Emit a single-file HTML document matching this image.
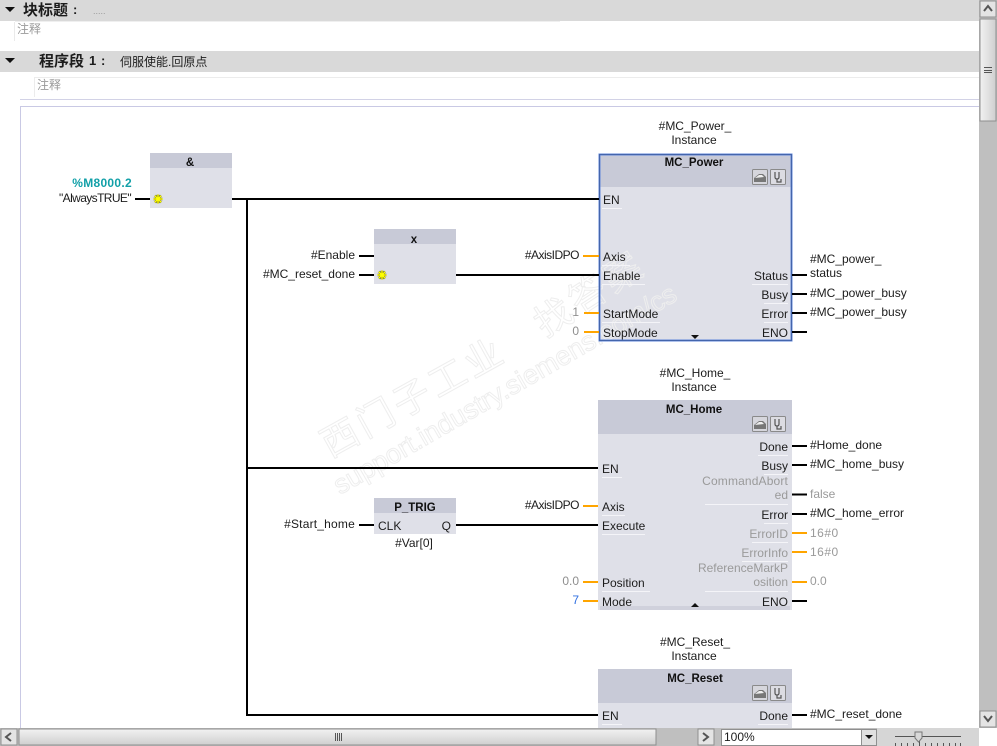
<!DOCTYPE html>
<html><head><meta charset="utf-8"><style>
html,body{margin:0;padding:0;background:#fff;width:997px;height:746px;overflow:hidden}
svg{display:block}
text{font-family:"Liberation Sans","Noto Sans CJK SC",sans-serif;font-size:12px;fill:#1c1c1c}
.e{text-anchor:end}.m{text-anchor:middle}
.t{font-weight:bold;font-size:11.500px;text-anchor:middle;fill:#111}
.g{fill:#9a9a9a}.og{fill:#8f8f8f}
.wm{fill:none;stroke:#eeeeee;stroke-width:1}
.k{stroke:#000;stroke-width:2;fill:none}
.o{stroke:#ffa500;stroke-width:2;fill:none}
.u{stroke:#f4f4f8;stroke-width:1;fill:none}
.cjk{font-family:"Liberation Sans","Noto Sans CJK SC",sans-serif}
</style></head><body>
<svg width="997" height="746" viewBox="0 0 997 746" xmlns="http://www.w3.org/2000/svg">
<defs>
<linearGradient id="sb" x1="0" x2="1" y1="0" y2="0"><stop offset="0" stop-color="#f2f2f2"/><stop offset="1" stop-color="#cfcfcf"/></linearGradient>
<linearGradient id="sh" x1="0" x2="0" y1="0" y2="1"><stop offset="0" stop-color="#f2f2f2"/><stop offset="1" stop-color="#cfcfcf"/></linearGradient>
<g id="ic">
<rect x="0.5" y="0.5" width="15" height="15" fill="#d6d6dc" stroke="#8a8a8a" rx="1"/>
<path d="M2 13V9L7 5H11L14 8V13Z" fill="#777"/><path d="M3 9L7 6H10L12 8Z" fill="#eee"/>
<rect x="18.5" y="0.5" width="15" height="15" fill="#dcdce2" stroke="#8a8a8a" rx="1"/>
<path d="M23 3V8Q23 10 25 10Q27 10 27 8V3M25 10V13H29V10" fill="none" stroke="#555" stroke-width="1.2"/>
</g>
<g id="st">
<path d="M-5 -0.500H4M-0.500 -5V4M-3.500 -4L2.500 3M-3.500 3L2.500 -4" transform="translate(0.500 0.500)" stroke="#6b6b20" stroke-width="2.400"/>
<path d="M-4.500 0H4.500M0 -4.500V4.500M-3.200 -3.200L3.200 3.200M-3.200 3.200L3.200 -3.200" stroke="#ffff00" stroke-width="1.400"/>
</g>
</defs>

<!-- headers -->
<rect x="0" y="0" width="979" height="21" fill="#d9d9d9"/>
<rect x="0" y="51" width="979" height="21" fill="#d9d9d9"/>
<path d="M5 7H15L10 12Z M5 58H15L10 63Z" fill="#111"/>
<text x="23" y="15" class="cjk" style="font-size:15px;font-weight:bold">块标题</text>
<text x="73" y="14" style="font-size:13px;font-weight:bold">:</text>
<text x="93" y="14" class="g" style="font-size:9px">.....</text>
<path d="M14.500 22V41" stroke="#eaeaea"/>
<path d="M15 21.500H560" stroke="#efefef"/>
<text x="17" y="33" class="g cjk">注释</text>
<text x="39" y="66" class="cjk" style="font-size:15px;font-weight:bold">程序段</text>
<text x="89" y="65" style="font-size:13px;font-weight:bold">1</text>
<text x="101" y="65" style="font-size:13px;font-weight:bold">:</text>
<text x="120" y="66" class="cjk" style="font-size:12px">伺服使能.回原点</text>
<path d="M34.500 77V97M34 77.500H979" stroke="#ececec" fill="none"/>
<text x="37" y="89" class="g cjk">注释</text>
<path d="M20 99.500H979" stroke="#d2d2e6"/>
<path d="M20.500 728V106.500H979" stroke="#c9c9e4" fill="none"/>

<!-- blocks -->
<rect x="150" y="153" width="82" height="55" fill="#dfe0e8"/><rect x="150" y="153" width="82" height="15" fill="#c8cad7"/>
<rect x="374" y="229" width="82" height="55" fill="#dfe0e8"/><rect x="374" y="229" width="82" height="15" fill="#c8cad7"/>
<rect x="374" y="498" width="82" height="36" fill="#dfe0e8"/><rect x="374" y="498" width="82" height="15" fill="#c8cad7"/>
<rect x="599" y="154" width="193" height="187" fill="#dfe0e8"/><rect x="599" y="154" width="193" height="33" fill="#c8cad7"/>
<rect x="598" y="400" width="194" height="210" fill="#dfe0e8"/><rect x="598" y="400" width="194" height="34" fill="#c8cad7"/>
<rect x="600" y="606" width="190" height="4" fill="#d0d1dc"/>
<rect x="598" y="669" width="194" height="59" fill="#dfe0e8"/><rect x="598" y="669" width="194" height="34" fill="#c8cad7"/>

<!-- watermark -->
<g transform="translate(340 495) rotate(-30)"><text class="wm" style="font-size:27px;font-family:'Liberation Sans',sans-serif">support.industry.siemens.com/cs</text></g>
<g transform="translate(330 458) rotate(-29)"><text class="wm" style="font-size:37px;letter-spacing:4px">西门子工业</text></g>
<g transform="translate(545 338) rotate(-33)"><text class="wm" style="font-size:37px;letter-spacing:4px">找答案</text></g>

<!-- selection -->
<rect x="599.500" y="154.500" width="192" height="186" fill="none" stroke="#5f86da" stroke-width="2"/>
<rect x="599.500" y="154.500" width="192" height="186" fill="none" stroke="#2a447e" stroke-width="1" stroke-dasharray="1 1"/>

<!-- underlines -->
<path class="u" d="M602 208.500H622M602 265.500H630M602 284.500H645M602 322.500H660M752 284.500H788M764 303.500H788M764 322.500H788
M602 477.500H622M602 515.500H625M602 534.500H645M602 591.500H650M758 455.500H788M764 474.500H788M705 504.500H788M764 523.500H788M752 542.500H788M742 561.500H788M705 591.500H788M602 724.500H622M758 724.500H788"/>

<!-- wires -->
<path class="k" d="M135 199H150M232 199H599M247 199V715H598M247 468H598M359 256H374M359 275H374M456 275H599M359 525H374M456 525H598"/>
<path class="k" d="M792 275H807M792 294H807M792 313H807M792 332H807M792 446H807M792 465H807M792 494.500H807M792 514H807M792 715H807M792 601H807"/>
<path class="o" d="M583 256H599M584 313H599M584 332H599M583 506H598M583 582H598M583 601H598M792 533H807M792 552H807M792 582H807"/>

<!-- stars -->
<use href="#st" x="158" y="199"/><use href="#st" x="382" y="275"/>

<!-- left labels -->
<text x="132" y="187" class="e" style="fill:#12a0a8;font-weight:bold;letter-spacing:.3px">%M8000.2</text>
<text x="131" y="202" class="e" style="letter-spacing:-.6px">"AlwaysTRUE"</text>
<text x="190" y="166" class="t">&amp;</text>
<text x="414" y="243" class="t">x</text>
<text x="355" y="259" class="e">#Enable</text>
<text x="355" y="278" class="e">#MC_reset_done</text>
<text x="415" y="511" class="t">P_TRIG</text>
<text x="378" y="530">CLK</text>
<text x="451" y="530" class="e">Q</text>
<text x="414" y="547" class="m">#Var[0]</text>
<text x="355" y="528" class="e" style="letter-spacing:.2px">#Start_home</text>

<!-- MC_Power -->
<text x="695" y="130" class="m">#MC_Power_</text><text x="694" y="144" class="m">Instance</text>
<text x="694" y="166" class="t">MC_Power</text>
<use href="#ic" x="752" y="169"/>
<text x="603" y="204">EN</text><text x="603" y="261">Axis</text><text x="603" y="280">Enable</text><text x="603" y="318">StartMode</text><text x="603" y="337">StopMode</text>
<path d="M691 335H699L695 339Z" fill="#111"/>
<text x="788" y="280" class="e">Status</text><text x="788" y="299" class="e">Busy</text><text x="788" y="318" class="e">Error</text><text x="788" y="337" class="e">ENO</text>
<text x="579" y="259" class="e" style="letter-spacing:-.5px">#AxisIDPO</text>
<text x="579" y="316" class="e og">1</text><text x="579" y="335" class="e og">0</text>
<text x="810" y="263">#MC_power_</text><text x="810" y="277">status</text>
<text x="810" y="297">#MC_power_busy</text><text x="810" y="316">#MC_power_busy</text>

<!-- MC_Home -->
<text x="695" y="377" class="m">#MC_Home_</text><text x="694" y="391" class="m">Instance</text>
<text x="694" y="413" class="t">MC_Home</text>
<use href="#ic" x="752" y="416"/>
<text x="602" y="473">EN</text><text x="602" y="511">Axis</text><text x="602" y="530">Execute</text><text x="602" y="587">Position</text><text x="602" y="606">Mode</text>
<path d="M691 607H699L695 603Z" fill="#111"/>
<text x="788" y="451" class="e">Done</text><text x="788" y="470" class="e">Busy</text>
<text x="788" y="485" class="e g" style="letter-spacing:.15px">CommandAbort</text><text x="788" y="499" class="e g">ed</text>
<text x="788" y="519" class="e">Error</text><text x="788" y="538" class="e g">ErrorID</text><text x="788" y="557" class="e g">ErrorInfo</text>
<text x="788" y="572" class="e g">ReferenceMarkP</text><text x="788" y="586" class="e g">osition</text><text x="788" y="606" class="e">ENO</text>
<text x="579" y="509" class="e" style="letter-spacing:-.5px">#AxisIDPO</text>
<text x="579" y="585" class="e og">0.0</text><text x="579" y="604" class="e" style="fill:#2f6fe0">7</text>
<text x="810" y="449">#Home_done</text><text x="810" y="468">#MC_home_busy</text><text x="810" y="498" class="g">false</text>
<text x="810" y="517">#MC_home_error</text><text x="810" y="537" class="g" style="letter-spacing:.5px">16#0</text><text x="810" y="556" class="g" style="letter-spacing:.5px">16#0</text><text x="810" y="585" class="g">0.0</text>

<!-- MC_Reset -->
<text x="695" y="646" class="m">#MC_Reset_</text><text x="694" y="660" class="m">Instance</text>
<text x="695" y="682" class="t">MC_Reset</text>
<use href="#ic" x="752" y="685"/>
<text x="602" y="720">EN</text><text x="788" y="720" class="e">Done</text>
<text x="810" y="718">#MC_reset_done</text>

<!-- vertical scrollbar -->
<rect x="979" y="0" width="18" height="728" fill="#bfbfbf"/>
<rect x="980" y="1" width="16" height="16" fill="#e4e4e4" stroke="#8f8f8f"/>
<path d="M984 11L988 6L992 11" fill="none" stroke="#555" stroke-width="2"/>
<rect x="980" y="19" width="16" height="102" fill="url(#sb)" stroke="#8f8f8f"/>
<path d="M984 67.500H992M984 70.500H992M984 72.500H992" stroke="#555" fill="none"/>
<rect x="980" y="711" width="16" height="16" fill="#e4e4e4" stroke="#8f8f8f"/>
<path d="M984 716L988 721L992 716" fill="none" stroke="#555" stroke-width="2"/>

<!-- horizontal bar -->
<rect x="0" y="728" width="979" height="18" fill="#bfbfbf"/>
<rect x="1" y="729" width="16" height="16" fill="#e4e4e4" stroke="#8f8f8f"/>
<path d="M11 733L6 737L11 741" fill="none" stroke="#555" stroke-width="2"/>
<rect x="19" y="729" width="637" height="16" fill="url(#sh)" stroke="#8f8f8f"/>
<path d="M335.500 733V741M337.500 733V741M339.500 733V741M341.500 733V741" stroke="#555" fill="none"/>
<rect x="698" y="729" width="16" height="16" fill="#e4e4e4" stroke="#8f8f8f"/>
<path d="M703 733L708 737L703 741" fill="none" stroke="#555" stroke-width="2"/>
<rect x="877" y="728" width="102" height="18" fill="#d6d6d6"/>
<rect x="721.500" y="729.500" width="155" height="16" fill="#fff" stroke="#8f8f8f"/>
<rect x="861.500" y="729.500" width="15" height="16" fill="#e0e0e0" stroke="#8f8f8f"/>
<path d="M865 735H873L869 739Z" fill="#111"/>
<text x="724" y="741">100%</text>
<path d="M895 736.500H961" stroke="#555"/>
<path d="M895.500 743V746M901.500 743V746M907.500 743V746M913.500 743V746M919.500 741V746M925.500 743V746M931.500 743V746M937.500 743V746M943.500 743V746M949.500 743V746M955.500 743V746M960.500 743V746" stroke="#555" fill="none"/>
<path d="M915 732H922V738L918.500 742L915 738Z" fill="#d8d8d8" stroke="#777"/>
</svg>
</body></html>
